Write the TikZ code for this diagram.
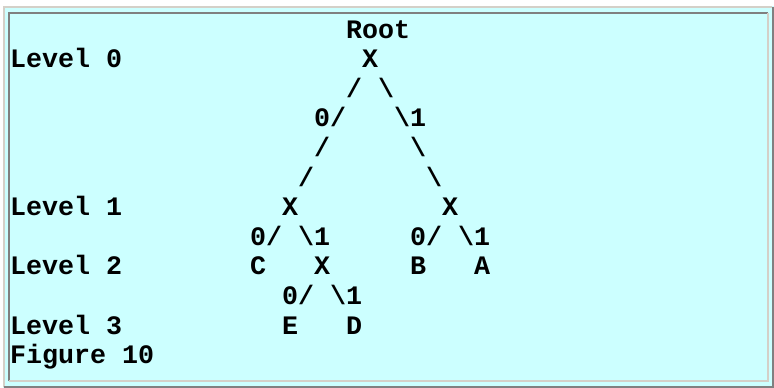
\documentclass[tikz,border=0pt]{standalone}
\usepackage{fontspec}
\setmonofont{Liberation Mono}
\definecolor{panelcyan}{HTML}{CCFFFF}
\definecolor{framedark}{HTML}{808080}
\definecolor{framelight}{HTML}{D4D0C8}
\begin{document}
\begin{tikzpicture}[x=1pt,y=-1pt,
  txt/.style={anchor=base west, inner sep=0pt, outer sep=0pt,
    font=\ttfamily\bfseries\fontsize{26.67}{30}\selectfont}]
% page and panel
\fill[white] (0,0) rectangle (774,388);
\useasboundingbox (0,0) rectangle (774,388);
\fill[panelcyan] (3,6) rectangle (774,388);
% outer raised frame
\draw[framelight, line width=2] (4,387) -- (4,7) -- (772,7);
\draw[framedark, line width=2] (773,7) -- (773,387) -- (4,387);
% inner sunken frame
\draw[framedark, line width=2] (9,381) -- (9,13) -- (768,13);
\draw[framelight, line width=2] (768,13) -- (768,381) -- (9,381);
% text grid: column c at x = 10+16c, row r at baseline 38+29.6r
% row 0
\node[txt] (root) at (10+16*21, 38) {Root};
% row 1
\node[txt] (lvl0) at (10, 67.6) {Level 0};
\node[txt] (n0) at (10+16*22, 67.6) {X};
% row 2
\node[txt] (a0) at (10+16*21, 97.2) {/};
\node[txt] (b0) at (10+16*23, 97.2) {\textbackslash};
% row 3
\node[txt] (a1) at (10+16*19, 126.8) {0/};
\node[txt] (b1) at (10+16*24, 126.8) {\textbackslash 1};
% row 4
\node[txt] (a2) at (10+16*19, 156.4) {/};
\node[txt] (b2) at (10+16*25, 156.4) {\textbackslash};
% row 5
\node[txt] (a3) at (10+16*18, 186.0) {/};
\node[txt] (b3) at (10+16*26, 186.0) {\textbackslash};
% row 6
\node[txt] (lvl1) at (10, 215.6) {Level 1};
\node[txt] (n1) at (10+16*17, 215.6) {X};
\node[txt] (n2) at (10+16*27, 215.6) {X};
% row 7
\node[txt] (c0) at (10+16*15, 245.2) {0/};
\node[txt] (d0) at (10+16*18, 245.2) {\textbackslash 1};
\node[txt] (c1) at (10+16*25, 245.2) {0/};
\node[txt] (d1) at (10+16*28, 245.2) {\textbackslash 1};
% row 8
\node[txt] (lvl2) at (10, 274.8) {Level 2};
\node[txt] (lc) at (10+16*15, 274.8) {C};
\node[txt] (n3) at (10+16*19, 274.8) {X};
\node[txt] (lb) at (10+16*25, 274.8) {B};
\node[txt] (la) at (10+16*29, 274.8) {A};
% row 9
\node[txt] (c2) at (10+16*17, 304.4) {0/};
\node[txt] (d2) at (10+16*20, 304.4) {\textbackslash 1};
% row 10
\node[txt] (lvl3) at (10, 334.0) {Level 3};
\node[txt] (le) at (10+16*17, 334.0) {E};
\node[txt] (ld) at (10+16*21, 334.0) {D};
% row 11
\node[txt] (fig) at (10, 363.6) {Figure 10};
\end{tikzpicture}
\end{document}
